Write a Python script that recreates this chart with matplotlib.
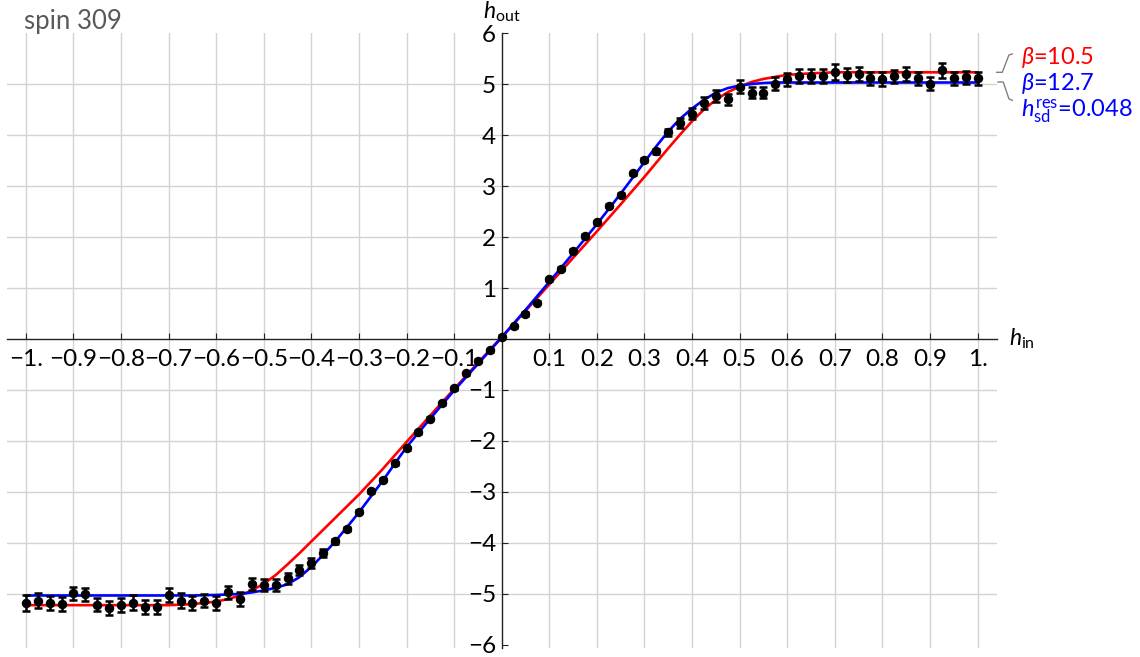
import matplotlib
matplotlib.use("Agg")
import matplotlib.pyplot as plt

plt.rcParams['font.family'] = ['Lato', 'DejaVu Sans']
plt.rcParams['mathtext.fontset'] = 'custom'
plt.rcParams['mathtext.rm'] = 'Lato'
plt.rcParams['mathtext.it'] = 'Lato:italic'
plt.rcParams['mathtext.bf'] = 'Lato:bold'

# measured response of spin 309
h_in = [-1.000, -0.975, -0.950, -0.925, -0.900, -0.875, -0.850, -0.825, -0.800, -0.775,
        -0.750, -0.725, -0.700, -0.675, -0.650, -0.625, -0.600, -0.575, -0.550, -0.525,
        -0.500, -0.475, -0.450, -0.425, -0.400, -0.375, -0.350, -0.325, -0.300, -0.275,
        -0.250, -0.225, -0.200, -0.175, -0.150, -0.125, -0.100, -0.075, -0.050, -0.025,
        0.000, 0.025, 0.050, 0.075, 0.100, 0.125, 0.150, 0.175, 0.200, 0.225,
        0.250, 0.275, 0.300, 0.325, 0.350, 0.375, 0.400, 0.425, 0.450, 0.475,
        0.500, 0.525, 0.550, 0.575, 0.600, 0.625, 0.650, 0.675, 0.700, 0.725,
        0.750, 0.775, 0.800, 0.825, 0.850, 0.875, 0.900, 0.925, 0.950, 0.975, 1.000]
h_out = [-5.18, -5.13, -5.18, -5.20, -4.99, -5.01, -5.21, -5.27, -5.22, -5.17,
         -5.25, -5.25, -5.02, -5.13, -5.18, -5.13, -5.18, -4.97, -5.10, -4.80,
         -4.82, -4.82, -4.69, -4.53, -4.39, -4.20, -3.97, -3.73, -3.39, -2.99,
         -2.76, -2.44, -2.14, -1.83, -1.56, -1.26, -0.97, -0.67, -0.43, -0.22,
         0.04, 0.25, 0.49, 0.71, 1.17, 1.38, 1.73, 2.02, 2.29, 2.61,
         2.83, 3.25, 3.51, 3.68, 4.05, 4.24, 4.42, 4.63, 4.76, 4.70,
         4.95, 4.83, 4.83, 5.01, 5.09, 5.16, 5.16, 5.16, 5.24, 5.18,
         5.20, 5.11, 5.10, 5.15, 5.20, 5.11, 5.01, 5.27, 5.11, 5.13, 5.11]
h_err = [0.15, 0.14, 0.13, 0.14, 0.12, 0.12, 0.13, 0.14, 0.14, 0.14,
         0.14, 0.14, 0.13, 0.14, 0.13, 0.13, 0.14, 0.12, 0.13, 0.12,
         0.12, 0.12, 0.11, 0.10, 0.10, 0.08, 0.05, 0.04, 0.03, 0.03,
         0.03, 0.03, 0.03, 0.03, 0.03, 0.03, 0.03, 0.03, 0.03, 0.03,
         0.03, 0.03, 0.03, 0.03, 0.03, 0.03, 0.03, 0.03, 0.03, 0.03,
         0.03, 0.03, 0.03, 0.05, 0.07, 0.10, 0.11, 0.11, 0.12, 0.11,
         0.12, 0.11, 0.11, 0.12, 0.13, 0.13, 0.13, 0.13, 0.16, 0.14,
         0.14, 0.13, 0.13, 0.13, 0.14, 0.13, 0.12, 0.15, 0.13, 0.13, 0.13]

# fitted response curves
fit_h = [-1.000, -0.800, -0.700, -0.650, -0.600, -0.575, -0.550, -0.525, -0.500, -0.475,
         -0.450, -0.425, -0.400, -0.375, -0.350, -0.325, -0.300, -0.250, -0.200, -0.150,
         -0.100, -0.050, 0.000, 0.050, 0.100, 0.150, 0.200, 0.250, 0.300, 0.325,
         0.350, 0.375, 0.400, 0.425, 0.450, 0.475, 0.500, 0.525, 0.550, 0.575,
         0.600, 0.650, 0.700, 0.800, 1.000]
fit_red = [-5.22, -5.22, -5.22, -5.20, -5.15, -5.10, -5.03, -4.93, -4.80, -4.63,
           -4.42, -4.20, -3.97, -3.74, -3.51, -3.28, -3.05, -2.55, -2.02, -1.50,
           -0.98, -0.47, 0.04, 0.55, 1.07, 1.59, 2.11, 2.64, 3.18, 3.46,
           3.74, 4.01, 4.27, 4.50, 4.69, 4.84, 4.95, 5.04, 5.10, 5.14,
           5.18, 5.21, 5.23, 5.23, 5.23]
fit_blue = [-5.03, -5.03, -5.03, -5.03, -5.02, -5.01, -5.00, -4.97, -4.93, -4.88,
            -4.81, -4.67, -4.47, -4.23, -3.97, -3.69, -3.40, -2.78, -2.12, -1.56,
            -1.01, -0.49, 0.03, 0.57, 1.12, 1.68, 2.25, 2.85, 3.47, 3.78,
            4.07, 4.32, 4.52, 4.69, 4.83, 4.92, 4.97, 5.00, 5.02, 5.03,
            5.03, 5.03, 5.03, 5.03, 5.03]

x_ticks = [-1.0, -0.9, -0.8, -0.7, -0.6, -0.5, -0.4, -0.3, -0.2, -0.1,
           0.1, 0.2, 0.3, 0.4, 0.5, 0.6, 0.7, 0.8, 0.9, 1.0]
x_tick_labels = ['−1.', '−0.9', '−0.8', '−0.7', '−0.6', '−0.5', '−0.4', '−0.3', '−0.2', '−0.1',
                 '0.1', '0.2', '0.3', '0.4', '0.5', '0.6', '0.7', '0.8', '0.9', '1.']
y_ticks = [-6, -5, -4, -3, -2, -1, 1, 2, 3, 4, 5, 6]
y_tick_labels = ['−6', '−5', '−4', '−3', '−2', '−1', '1', '2', '3', '4', '5', '6']

RED = '#ff0000'
BLUE = '#0000ff'
GRID = '#d3d3d3'

fig = plt.figure(figsize=(11.4, 6.57), dpi=100)
ax = fig.add_axes([0.0064, 0.0137, 0.8682, 0.936])
ax.set_xlim(-1.039, 1.041)
ax.set_ylim(-6.06, 6.0)

# grid
for x in x_ticks:
    ax.axvline(x, color=GRID, lw=1.0, zorder=0)
for y in [-5, -4, -3, -2, -1, 1, 2, 3, 4, 5]:
    ax.axhline(y, color=GRID, lw=1.0, zorder=0)

# axes through the origin
for side in ['top', 'right']:
    ax.spines[side].set_visible(False)
for side in ['left', 'bottom']:
    ax.spines[side].set_position(('data', 0))
    ax.spines[side].set_color('#222222')
    ax.spines[side].set_linewidth(1.0)

ax.set_xticks(x_ticks)
ax.set_xticklabels(x_tick_labels)
ax.set_yticks(y_ticks)
ax.set_yticklabels(y_tick_labels)
ax.tick_params(axis='x', direction='in', length=4.5, width=0.8, color='#222222',
               pad=7, labelsize=17.5, labelcolor='black')
ax.tick_params(axis='y', direction='in', length=4.5, width=0.8, color='#222222',
               pad=4, labelsize=17.5, labelcolor='black')

# fitted curves
ax.plot(fit_h, fit_red, color=RED, lw=1.9, zorder=3, clip_on=False)
ax.plot(fit_h, fit_blue, color=BLUE, lw=1.9, zorder=4, clip_on=False)

# data with error bars
ax.errorbar(h_in, h_out, yerr=h_err, fmt='o', color='black', ms=5.8,
            elinewidth=1.8, capsize=3.2, capthick=1.8, zorder=5)

# axis labels
ax.text(0.0, 6.28, r'$h_{\mathrm{out}}$', ha='center', va='baseline', fontsize=16.5)
ax.text(1.066, 0.0, r'$h_{\mathrm{in}}$', ha='left', va='center', fontsize=16.5)

# title
fig.text(24 / 1140, 1 - 29 / 657, 'spin 309', ha='left', va='baseline',
         fontsize=18.5, color='#595959')

# fit annotations with connectors
ax.plot([1.040, 1.052, 1.066, 1.073], [5.23, 5.23, 5.57, 5.59],
        color='#808080', lw=1.0, clip_on=False)
ax.plot([1.043, 1.054, 1.066, 1.073], [5.04, 5.04, 4.71, 4.68],
        color='#808080', lw=1.0, clip_on=False)
fig.text(1021 / 1140, 1 - 57 / 657, r'$\beta$=10.5', ha='left', va='center',
         fontsize=17, color=RED)
fig.text(1021 / 1140, 1 - 83 / 657, r'$\beta$=12.7', ha='left', va='center',
         fontsize=17, color=BLUE)
fig.text(1021 / 1140, 1 - 112 / 657, r'$h^{\mathrm{res}}_{\mathrm{sd}}$=0.048',
         ha='left', va='center', fontsize=17, color=BLUE)

fig.savefig('out.png', dpi=100)
